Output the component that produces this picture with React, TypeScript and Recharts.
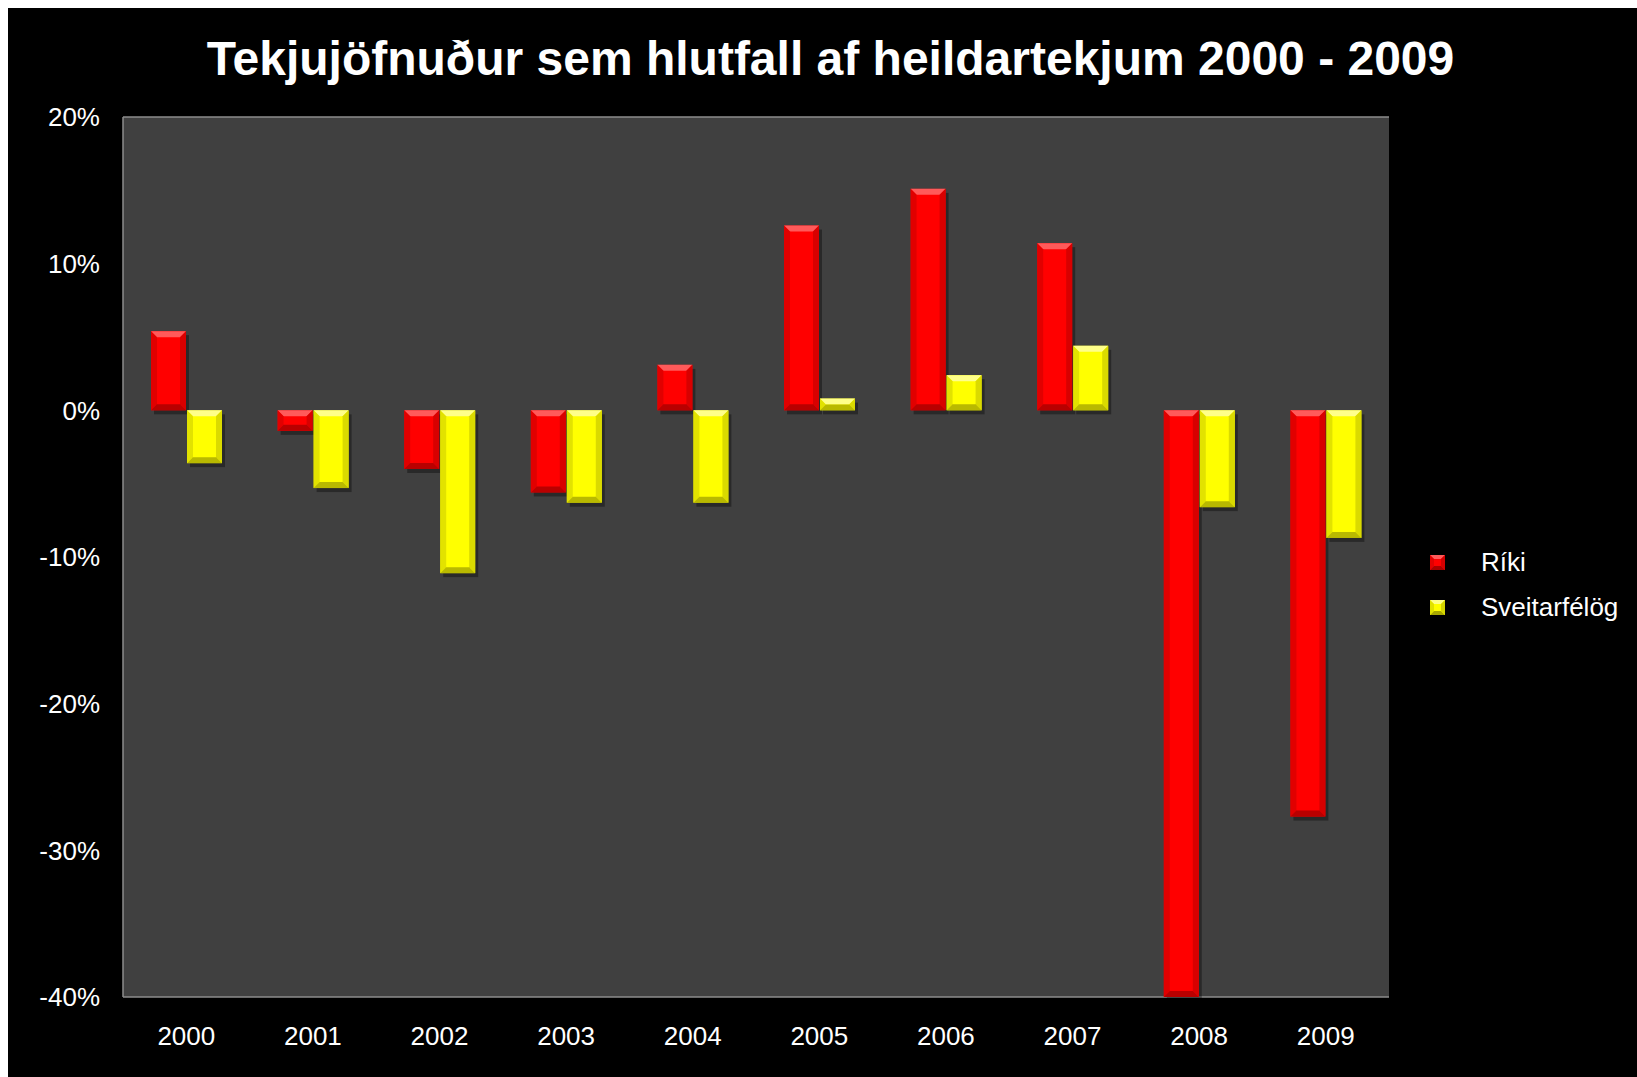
import React from "react";
import {
  BarChart,
  Bar,
  XAxis,
  YAxis,
  CartesianGrid,
  Legend,
} from "recharts";

const years = ["2000", "2001", "2002", "2003", "2004", "2005", "2006", "2007", "2008", "2009"];
const riki = [5.4, -1.4, -4.0, -5.6, 3.1, 12.6, 15.1, 11.4, -40.0, -27.7];
const sveitarfelog = [-3.6, -5.3, -11.1, -6.3, -6.3, 0.8, 2.4, 4.4, -6.6, -8.7];
const yTicks = [-40, -30, -20, -10, 0, 10, 20];
const seriesNames = ["Ríki", "Sveitarfélög"];

const data = years.map((y, i) => ({ year: y, riki: riki[i], sveitarfelog: sveitarfelog[i] }));

const FONT = "Arial, 'Liberation Sans', sans-serif";

type Pal = { base: string; light: string; side: string; bottom: string };
const RED: Pal = { base: "#ff0000", light: "#ff5a5a", side: "#d40000", bottom: "#a80000" };
const YEL: Pal = { base: "#ffff00", light: "#ffff8a", side: "#d6d600", bottom: "#a8a800" };

const BevelBar = (props: any) => {
  const { x, y, width, height, pal } = props;
  if (width == null || height == null) return null;
  const top = height < 0 ? y + height : y;
  const h = Math.abs(height);
  const w = width;
  const b = Math.min(6, h / 2, w / 2);
  return (
    <g>
      <rect x={x + 3} y={top + 4} width={w} height={h} fill="rgba(0,0,0,0.35)" />
      <rect x={x} y={top} width={w} height={h} fill={pal.base} />
      <polygon
        points={`${x},${top} ${x + w},${top} ${x + w - b},${top + b} ${x + b},${top + b}`}
        fill={pal.light}
      />
      <polygon
        points={`${x},${top} ${x + b},${top + b} ${x + b},${top + h - b} ${x},${top + h}`}
        fill={pal.side}
        opacity={0.7}
      />
      <polygon
        points={`${x + w},${top} ${x + w - b},${top + b} ${x + w - b},${top + h - b} ${x + w},${top + h}`}
        fill={pal.side}
        opacity={0.9}
      />
      <polygon
        points={`${x},${top + h} ${x + b},${top + h - b} ${x + w - b},${top + h - b} ${x + w},${top + h}`}
        fill={pal.bottom}
        opacity={0.8}
      />
    </g>
  );
};

const LegendIcon = ({ pal }: { pal: Pal }) => (
  <svg width={15} height={15} style={{ display: "block" }}>
    <rect x={0} y={0} width={15} height={15} fill={pal.base} />
    <polygon points="0,0 15,0 11,4 4,4" fill={pal.light} />
    <polygon points="0,15 4,11 11,11 15,15" fill={pal.bottom} />
    <polygon points="15,0 11,4 11,11 15,15" fill={pal.side} />
    <polygon points="0,0 4,4 4,11 0,15" fill={pal.side} opacity={0.7} />
  </svg>
);

const renderLegend = () => (
  <div style={{ fontFamily: FONT, fontSize: 26, color: "#ffffff" }}>
    {[RED, YEL].map((pal, i) => (
      <div
        key={i}
        style={{ display: "flex", alignItems: "center", height: 45 }}
      >
        <div style={{ width: 51 }}>
          <LegendIcon pal={pal} />
        </div>
        <span>{seriesNames[i]}</span>
      </div>
    ))}
  </div>
);

export default function App() {
  return (
    <div
      style={{
        position: "fixed",
        left: 8,
        top: 8,
        right: 0,
        bottom: 0,
        background: "#000000",
        fontFamily: FONT,
        overflow: "hidden",
      }}
    >
      <div
        style={{
          position: "absolute",
          left: 12,
          top: 23,
          width: 1621,
          textAlign: "center",
          color: "#ffffff",
          fontWeight: "bold",
          fontSize: 48,
          lineHeight: "56px",
        }}
      >
        Tekjujöfnuður sem hlutfall af heildartekjum 2000 - 2009
      </div>
      <BarChart
        width={1621}
        height={1061}
        data={data}
        margin={{ top: 109, right: 40, bottom: 42, left: 0 }}
        barSize={35}
        barGap={1}
        style={{ position: "absolute", left: 0, top: 0 }}
      >
        <CartesianGrid
          vertical={false}
          stroke="#8c8c8c"
          strokeWidth={1.5}
          fill="#404040"
          fillOpacity={1}
        />
        <XAxis
          dataKey="year"
          height={30}
          axisLine={false}
          tickLine={false}
          tickSize={0}
          tickMargin={30}
          tick={{ fill: "#ffffff", fontSize: 26, fontFamily: FONT }}
          interval={0}
        />
        <YAxis
          yAxisId="left"
          width={115}
          domain={[-40, 20]}
          ticks={yTicks}
          interval={0}
          axisLine={{ stroke: "#8c8c8c", strokeWidth: 1.5 }}
          tickLine={false}
          tickSize={0}
          tickMargin={23}
          tickFormatter={(v: number) => `${v}%`}
          tick={{ fill: "#ffffff", fontSize: 26, fontFamily: FONT }}
        />
        <YAxis
          yAxisId="right"
          orientation="right"
          width={0}
          domain={[-40, 20]}
          ticks={yTicks}
          axisLine={{ stroke: "#8c8c8c", strokeWidth: 1.5 }}
          tickLine={false}
          tick={false}
        />
        <Legend
          layout="horizontal"
          verticalAlign="middle"
          align="right"
          content={renderLegend}
          wrapperStyle={{ position: "absolute", left: 1422, top: 532, width: 200 }}
        />
        <Bar
          yAxisId="left"
          dataKey="riki"
          name={seriesNames[0]}
          fill={RED.base}
          isAnimationActive={false}
          shape={(p: any) => <BevelBar {...p} pal={RED} />}
        />
        <Bar
          yAxisId="left"
          dataKey="sveitarfelog"
          name={seriesNames[1]}
          fill={YEL.base}
          isAnimationActive={false}
          shape={(p: any) => <BevelBar {...p} pal={YEL} />}
        />
      </BarChart>
    </div>
  );
}
